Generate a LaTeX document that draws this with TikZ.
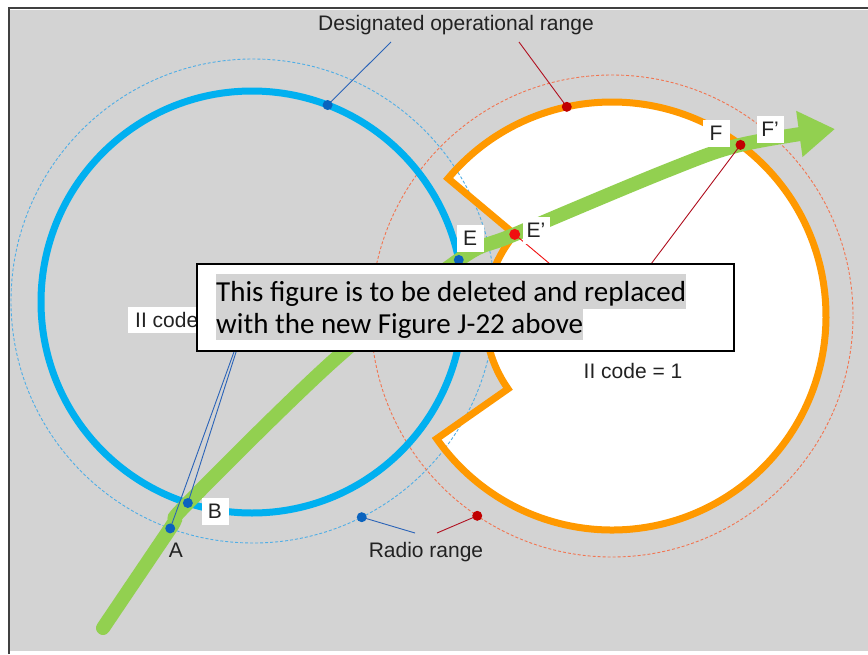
\documentclass[tikz,border=0pt]{standalone}
\usepackage{fontspec}
\setmainfont{Liberation Sans}
\newfontfamily\boxfont{Carlito}
\usetikzlibrary{arrows.meta,calc}
\definecolor{bggrey}{HTML}{D3D3D3}
\definecolor{framegrey}{HTML}{404040}
\definecolor{ringblue}{HTML}{00B0F0}
\definecolor{ringorange}{HTML}{FF9900}
\definecolor{pathgreen}{HTML}{92D050}
\definecolor{dashblue}{HTML}{4FAEE6}
\definecolor{dashorange}{HTML}{F27450}
\definecolor{dotblue}{HTML}{0B63BE}
\definecolor{dotred}{HTML}{C00000}
\definecolor{brightred}{HTML}{F01010}
\definecolor{linkblue}{HTML}{2A63B8}
\definecolor{linkred}{HTML}{B01020}
\definecolor{txtgrey}{HTML}{222222}

\begin{document}
\begin{tikzpicture}[x=1pt,y=-1pt,
  ring/.style={line width=7pt},
  radio/.style={line width=0.9pt,dash pattern=on 3pt off 2pt},
  bdot/.style={circle,fill=dotblue,inner sep=0pt,minimum size=10pt},
  rdot/.style={circle,fill=dotred,inner sep=0pt,minimum size=10pt},
  tag/.style={fill=white,inner sep=0pt,minimum width=27pt,minimum height=27pt,
    text=txtgrey,font=\fontsize{21}{21}\selectfont},
  lbl/.style={inner sep=0pt,text=txtgrey,font=\fontsize{21}{21}\selectfont},
  hl/.style={fill=bggrey,inner sep=0pt,anchor=base west,
    font=\boxfont\fontsize{29}{35}\selectfont}]
  \useasboundingbox (0,0) rectangle (868,654);
  \fill [white] (0,0) rectangle (868,654);
  \fill [bggrey] (10,10) rectangle (868,651);
  \draw [framegrey, line width=2pt] (9,654) -- (9,8) -- (868,8);

  \coordinate (bc) at (252,302);
  \coordinate (oc) at (612,316);

  \fill [white] ($(oc)+(-140:214)$) arc [start angle=-140, end angle=145, radius=214]
    -- ($(oc)+(145:127)$) arc [start angle=145, end angle=220, radius=127] -- cycle;

  \draw [radio, dashblue] (253,301) circle [radius=242];
  \draw [radio, dashorange] (oc) circle [radius=241];

  \draw [ring, ringblue] (bc) circle [radius=211];
  \draw [ring, ringorange, line join=miter] ($(oc)+(-140:214)$)
    arc [start angle=-140, end angle=145, radius=214]
    -- ($(oc)+(145:127)$) arc [start angle=145, end angle=220, radius=127] -- cycle;

  \coordinate (A) at ($(253,301)+(110:242)$);
  \coordinate (B) at ($(bc)+(107.7:211)$);
  \coordinate (E) at ($(bc)+(-11.5:211)$);
  \coordinate (Ep) at ($(oc)+(220:127)$);
  \coordinate (F) at ($(oc)+(-53.1:214)$);
  \coordinate (dsgb) at ($(bc)+(-69:211)$);
  \coordinate (dsgo) at ($(oc)+(-102.2:214)$);
  \coordinate (radb) at ($(253,301)+(63.3:242)$);
  \coordinate (rado) at ($(oc)+(124:241)$);

  \draw [pathgreen, line width=14pt, line cap=round, -{Triangle[length=36pt,width=44pt]}]
    plot [smooth, tension=0.55] coordinates {(103,628) (A) (B) (333,361) (E) (Ep) (666,171) (F) (835,129)};

  \coordinate (dsgbend) at (391,42);
  \coordinate (dsgoend) at (519,42);
  \coordinate (radbend) at (415,533);
  \coordinate (radoend) at (437,533);
  \draw [linkblue, line width=0.9pt] (A) -- (bc) (B) -- (bc) (dsgb) -- (dsgbend) (radb) -- (radbend);
  \draw [linkred, line width=0.9pt] (F) -- (oc) (dsgo) -- (dsgoend) (rado) -- (radoend);
  \draw [brightred, line width=0.9pt] (Ep) -- (oc);

  \node [bdot] (Adot) at (A) {};
  \node [bdot] (Bdot) at (B) {};
  \node [bdot] (Edot) at (E) {};
  \node [circle, fill=brightred, inner sep=0pt, minimum size=11pt] (Epdot) at (Ep) {};
  \node [rdot] (Fdot) at (F) {};
  \node [bdot] (dsgbdot) at (dsgb) {};
  \node [rdot] (dsgodot) at (dsgo) {};
  \node [bdot] (radbdot) at (radb) {};
  \node [rdot] (radodot) at (rado) {};

  \node [lbl] (dsglbl) at (456,25) {Designated operational range};
  \node [lbl] (radlbl) at (426,552) {Radio range};
  \node [lbl] (Albl) at (176,550) {A};
  \node [tag] (Blbl) at (215,511) {B};
  \node [tag] (Elbl) at (470,238) {E};
  \node [tag] (Eplbl) at (536,230) {E’};
  \node [tag] (Flbl) at (716,133) {F};
  \node [tag] (Fplbl) at (770,129) {F’};
  \node [tag, anchor=west, inner xsep=7pt, minimum height=26pt] (codelbl) at (128,320) {II code};
  \node [lbl] (code1lbl) at (633,371) {II code = 1};

  \node [draw, line width=2pt, fill=white, anchor=north west,
    minimum width=537pt, minimum height=87pt] (note) at (196,263) {};
  \node [hl, text height=27pt, text depth=8pt] (line1) at (216,301) {This figure is to be deleted and replaced};
  \node [hl, text height=24pt, text depth=7pt] (line2) at (216,333) {with the new Figure J-22 above};
\end{tikzpicture}
\end{document}
